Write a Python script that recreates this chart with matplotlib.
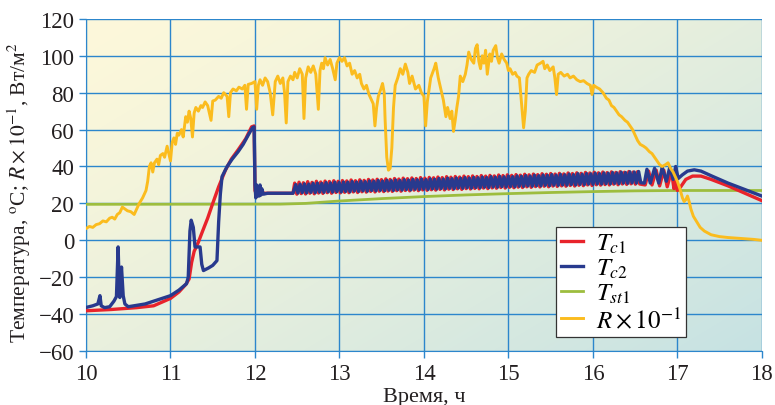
"""Temperature of collectors and solar radiation over a day (10-18 h)."""

import matplotlib

matplotlib.use("Agg")
import matplotlib.pyplot as plt  # noqa: E402
import numpy as np  # noqa: E402
from matplotlib.colors import to_rgb  # noqa: E402

# ---- data ----
# solar radiation R x 10^-1, W/m2
R_T = [10.00, 10.04, 10.08, 10.12, 10.16, 10.20, 10.24, 10.28, 10.31, 10.34,
       10.37, 10.40, 10.43, 10.46, 10.49, 10.53, 10.57, 10.60, 10.63, 10.67,
       10.71, 10.73, 10.75, 10.77, 10.79, 10.81, 10.84, 10.86, 10.88, 10.91,
       10.93, 10.96, 10.98, 11.00, 11.02, 11.04, 11.06, 11.08, 11.10, 11.13,
       11.15, 11.18, 11.20, 11.22, 11.24, 11.26, 11.28, 11.30, 11.33, 11.36,
       11.38, 11.41, 11.44, 11.48, 11.50, 11.53, 11.57, 11.60, 11.63, 11.67,
       11.69, 11.71, 11.74, 11.78, 11.81, 11.85, 11.88, 11.90, 11.92, 11.96,
       12.00, 12.02, 12.04, 12.06, 12.09, 12.12, 12.15, 12.18, 12.21, 12.24,
       12.27, 12.30, 12.33, 12.35, 12.37, 12.39, 12.42, 12.45, 12.47, 12.50,
       12.53, 12.56, 12.58, 12.60, 12.63, 12.66, 12.69, 12.72, 12.75, 12.77,
       12.79, 12.81, 12.83, 12.86, 12.89, 12.92, 12.95, 12.97, 13.00, 13.03,
       13.06, 13.09, 13.12, 13.15, 13.18, 13.21, 13.24, 13.26, 13.29, 13.32,
       13.35, 13.38, 13.40, 13.42, 13.44, 13.46, 13.49, 13.51, 13.53, 13.54,
       13.56, 13.58, 13.60, 13.62, 13.64, 13.66, 13.69, 13.72, 13.75, 13.78,
       13.81, 13.83, 13.86, 13.90, 13.94, 13.97, 14.00, 14.02, 14.04, 14.08,
       14.12, 14.14, 14.17, 14.20, 14.23, 14.26, 14.28, 14.31, 14.33, 14.35,
       14.37, 14.39, 14.41, 14.43, 14.46, 14.49, 14.51, 14.53, 14.56, 14.59,
       14.61, 14.63, 14.65, 14.67, 14.69, 14.71, 14.73, 14.75, 14.78, 14.80,
       14.82, 14.85, 14.87, 14.89, 14.92, 14.95, 14.98, 15.00, 15.02, 15.05,
       15.08, 15.10, 15.13, 15.16, 15.18, 15.20, 15.22, 15.24, 15.27, 15.31,
       15.34, 15.38, 15.41, 15.43, 15.46, 15.49, 15.53, 15.55, 15.57, 15.59,
       15.62, 15.66, 15.70, 15.73, 15.77, 15.81, 15.85, 15.89, 15.93, 15.97,
       15.99, 16.01, 16.04, 16.08, 16.12, 16.16, 16.19, 16.22, 16.25, 16.28,
       16.31, 16.34, 16.38, 16.41, 16.44, 16.47, 16.50, 16.53, 16.56, 16.60,
       16.63, 16.67, 16.70, 16.73, 16.76, 16.79, 16.82, 16.86, 16.89, 16.92,
       16.95, 16.98, 17.00, 17.03, 17.06, 17.08, 17.10, 17.12, 17.14, 17.16,
       17.19, 17.23, 17.27, 17.32, 17.40, 17.50, 17.60, 17.75, 17.90, 18.00]
R_V = [6.4, 7.5, 7.0, 8.5, 9.0, 10.5, 10.0, 12.0, 12.5, 11.5,
       14.0, 15.0, 18.0, 17.0, 16.0, 15.5, 14.0, 17.0, 20.0, 23.0,
       27.0, 32.0, 40.0, 42.0, 37.0, 42.0, 44.0, 41.0, 46.0, 47.0,
       45.0, 51.0, 47.0, 43.0, 53.0, 55.5, 52.0, 58.0, 57.0, 60.0,
       56.0, 67.0, 64.0, 70.0, 66.0, 56.0, 69.0, 72.0, 70.0, 73.0,
       72.0, 75.0, 73.0, 65.0, 75.5, 76.0, 78.0, 77.0, 80.0, 78.0,
       67.0, 80.0, 82.0, 81.0, 83.0, 82.0, 84.0, 71.0, 84.5, 85.0,
       86.0, 71.0, 84.0, 87.0, 84.0, 88.0, 86.0, 80.0, 68.0, 86.0,
       89.0, 85.0, 88.0, 80.0, 63.6, 86.0, 89.0, 87.0, 91.0, 88.0,
       93.0, 90.0, 66.0, 88.0, 94.0, 91.0, 94.5, 90.0, 71.0, 92.0,
       96.0, 93.0, 99.0, 95.0, 98.0, 93.0, 87.0, 96.0, 99.0, 97.0,
       99.0, 94.5, 96.0, 90.0, 92.0, 88.0, 90.0, 85.0, 82.0, 84.0,
       79.0, 76.0, 74.0, 62.0, 72.0, 78.0, 82.0, 85.0, 80.0, 66.0,
       45.0, 38.0, 39.0, 50.0, 72.0, 84.0, 88.0, 93.0, 90.0, 95.5,
       91.0, 85.0, 89.0, 82.0, 84.0, 80.0, 78.0, 62.0, 75.0, 88.0,
       93.0, 96.0, 88.0, 82.0, 76.0, 67.0, 72.0, 66.0, 70.0, 59.0,
       65.0, 72.0, 78.0, 89.0, 86.0, 90.0, 95.0, 102.0, 98.0, 96.0,
       104.0, 106.0, 97.0, 93.0, 100.0, 96.0, 103.0, 90.0, 101.0, 97.0,
       103.0, 105.5, 99.0, 96.0, 101.0, 98.0, 96.0, 92.0, 93.0, 90.0,
       91.0, 89.0, 88.0, 72.0, 61.0, 70.0, 88.0, 90.0, 92.0, 91.0,
       95.0, 96.0, 97.0, 93.0, 95.0, 92.0, 94.0, 88.0, 79.0, 90.0,
       91.0, 89.0, 90.0, 88.0, 89.0, 87.0, 86.0, 86.5, 85.0, 84.0,
       79.0, 84.0, 83.0, 82.0, 80.0, 77.0, 76.0, 73.0, 72.0, 70.0,
       68.0, 67.0, 65.0, 64.0, 62.0, 60.0, 57.0, 54.0, 52.0, 51.0,
       50.0, 48.0, 47.0, 45.0, 43.0, 41.0, 40.0, 41.0, 42.0, 39.0,
       37.0, 34.0, 32.0, 28.0, 23.0, 21.0, 22.0, 24.0, 21.0, 17.0,
       13.0, 10.0, 7.0, 5.0, 3.0, 2.0, 1.5, 1.0, 0.5, 0.0]

# collector 1 temperature: morning warm-up, dense cycling band, evening
TC1_HEAD_T = [10.00, 10.30, 10.60, 10.80, 11.00, 11.10, 11.18, 11.22, 11.25,
              11.28, 11.33, 11.38, 11.44, 11.50, 11.57, 11.65, 11.72, 11.80,
              11.89, 11.96, 11.99, 12.00, 12.02, 12.04, 12.06, 12.10, 12.45]
TC1_HEAD_V = [-38.2, -37.5, -36.5, -35.5, -31.5, -28.0, -24.0, -21.0, -12.0,
              -6.0, -1.0, 5.0, 12.0, 20.0, 29.0, 38.0, 44.0, 49.0,
              55.0, 61.5, 62.0, 27.0, 24.5, 26.5, 25.0, 25.5, 25.5]
TC1_TAIL_T = [16.62, 16.66, 16.70, 16.75, 16.79, 16.84, 16.88, 16.93, 16.96,
              16.98, 17.00, 17.04, 17.10, 17.18, 17.28, 17.40, 17.60, 17.80,
              18.00]
TC1_TAIL_V = [30.0, 37.5, 30.0, 38.0, 29.5, 38.0, 29.0, 37.5, 28.0,
              32.0, 27.0, 29.0, 33.0, 34.8, 34.8, 33.0, 29.5, 25.5,
              21.5]

# collector 2 temperature
TC2_HEAD_T = [10.00, 10.08, 10.14, 10.165, 10.18, 10.22, 10.28, 10.33, 10.36,
              10.38, 10.395, 10.40, 10.42, 10.44, 10.46, 10.50, 10.70, 11.00,
              11.10, 11.19, 11.21, 11.23, 11.245, 11.27, 11.29, 11.35, 11.37,
              11.39, 11.45, 11.50, 11.55, 11.57, 11.59, 11.61, 11.67, 11.73,
              11.80, 11.86, 11.92, 11.97, 11.99, 12.00, 12.01, 12.02, 12.03,
              12.04, 12.05, 12.06, 12.07, 12.08, 12.10, 12.15, 12.45]
TC2_HEAD_V = [-36.4, -35.5, -34.5, -30.0, -35.5, -36.5, -36.0, -33.0, -30.5,
              -3.6, -28.0, -31.0, -14.5, -30.0, -34.5, -36.0, -34.5, -30.0,
              -27.0, -23.5, -20.0, 5.0, 10.9, 7.0, -3.6, -3.6, -13.0,
              -16.4, -15.0, -13.6, -11.0, 10.0, 25.0, 34.5, 40.0, 44.0,
              48.0, 52.0, 57.0, 61.0, 61.5, 30.0, 23.0, 30.0, 24.0,
              29.0, 24.0, 30.0, 24.5, 28.0, 25.0, 25.5, 25.5]
TC2_TAIL_T = [16.61, 16.64, 16.68, 16.73, 16.78, 16.82, 16.87, 16.91, 16.95,
              16.98, 17.01, 17.06, 17.12, 17.20, 17.28, 17.40, 17.60, 17.80,
              18.00]
TC2_TAIL_V = [31.0, 38.5, 31.0, 39.0, 31.0, 39.5, 32.0, 39.5, 33.0,
              40.0, 33.5, 35.5, 37.5, 38.2, 37.5, 35.0, 31.0, 27.5,
              24.0]

# on/off cycling between 12.47 h and 16.6 h: peak and trough of each cycle
CYCLE_START = 12.47
CYCLE_END = 16.58
TC1_PEAKS = [31.0, 31.5, 31.2, 31.8, 31.4, 32.0, 31.6, 32.1, 31.9, 32.3,
             32.0, 32.4, 32.2, 32.7, 32.3, 32.8, 32.5, 33.0, 32.7, 33.1,
             32.9, 33.3, 33.0, 33.5, 33.2, 33.7, 33.4, 33.8, 33.5, 34.0,
             33.7, 34.1, 33.9, 34.3, 34.0, 34.5, 34.2, 34.6, 34.3, 34.8,
             34.5, 34.9, 34.6, 35.1, 34.8, 35.2, 34.9, 35.4, 35.1, 35.5,
             35.2, 35.6, 35.3, 35.8, 35.5, 35.9, 35.6, 36.1, 35.8, 36.2,
             35.9, 36.3, 36.0, 36.5, 36.2, 36.6, 36.3, 36.8, 36.5, 36.9,
             36.6, 37.0, 36.7, 37.1, 36.8, 37.2, 36.9, 37.3, 37.0, 37.2]
TC1_TROUGHS = [25.0, 25.3, 25.1, 25.5, 25.2, 25.6, 25.4, 25.8, 25.5, 25.9,
               25.7, 26.0, 25.8, 26.2, 25.9, 26.3, 26.1, 26.5, 26.2, 26.6,
               26.4, 26.7, 26.5, 26.9, 26.6, 27.0, 26.8, 27.2, 26.9, 27.3,
               27.1, 27.4, 27.2, 27.6, 27.3, 27.7, 27.5, 27.9, 27.6, 28.0,
               27.8, 28.1, 27.9, 28.3, 28.0, 28.4, 28.2, 28.6, 28.3, 28.7,
               28.5, 28.8, 28.6, 29.0, 28.7, 29.1, 28.9, 29.3, 29.0, 29.4,
               29.2, 29.5, 29.3, 29.7, 29.4, 29.8, 29.6, 30.0, 29.7, 30.1,
               29.9, 30.2, 30.0, 30.4, 30.1, 30.5, 30.3, 30.6, 30.4, 30.5]
TC2_PEAKS = [30.2, 30.4, 30.6, 30.5, 30.9, 31.0, 30.8, 31.3, 31.1, 31.5,
             31.3, 31.6, 31.5, 31.9, 31.6, 32.0, 31.8, 32.2, 32.0, 32.4,
             32.1, 32.5, 32.3, 32.7, 32.4, 32.9, 32.6, 33.0, 32.8, 33.2,
             32.9, 33.3, 33.1, 33.5, 33.2, 33.7, 33.4, 33.8, 33.6, 34.0,
             33.7, 34.1, 33.9, 34.3, 34.0, 34.5, 34.2, 34.6, 34.4, 34.8,
             34.5, 34.9, 34.7, 35.1, 34.8, 35.3, 35.0, 35.4, 35.2, 35.6,
             35.3, 35.7, 35.5, 35.9, 35.6, 36.1, 35.8, 36.2, 36.0, 36.4,
             36.1, 36.5, 36.3, 36.7, 36.5, 36.9, 36.7, 37.1, 37.0, 37.3]
TC2_TROUGHS = [25.6, 25.8, 25.7, 26.0, 25.8, 26.1, 26.0, 26.3, 26.1, 26.4,
               26.2, 26.5, 26.3, 26.7, 26.5, 26.8, 26.6, 27.0, 26.8, 27.1,
               26.9, 27.2, 27.0, 27.4, 27.2, 27.5, 27.3, 27.7, 27.5, 27.8,
               27.6, 27.9, 27.8, 28.1, 27.9, 28.2, 28.0, 28.4, 28.2, 28.5,
               28.3, 28.6, 28.5, 28.8, 28.6, 28.9, 28.8, 29.1, 28.9, 29.2,
               29.0, 29.3, 29.2, 29.5, 29.3, 29.6, 29.5, 29.8, 29.6, 29.9,
               29.8, 30.0, 29.9, 30.2, 30.0, 30.3, 30.2, 30.5, 30.3, 30.6,
               30.5, 30.7, 30.6, 30.9, 30.7, 31.0, 30.9, 31.1, 31.0, 31.2]

# storage tank temperature
TST1_T = [10.0, 12.3, 12.6, 13.0, 13.5, 14.0, 14.5, 15.0, 15.5, 16.0, 16.5, 17.0, 18.0]
TST1_V = [19.5, 19.6, 20.0, 21.3, 22.6, 23.7, 24.6, 25.3, 25.9, 26.4, 26.8, 27.0, 27.0]

X_TICKS = [10, 11, 12, 13, 14, 15, 16, 17, 18]
Y_TICKS = [-60, -40, -20, 0, 20, 40, 60, 80, 100, 120]

C_TC1 = "#e8232b"
C_TC2 = "#283a8e"
C_TST = "#9dbd3e"
C_R = "#fbbc1e"
C_GRID = "#2c86cc"


def cycling(head_t, head_v, peaks, troughs, tail_t, tail_v, shift):
    """Join head, zigzag of peak/trough pairs, and tail into one series."""
    n = len(peaks)
    period = (CYCLE_END - CYCLE_START) / n
    t_peak = CYCLE_START + shift * period + np.arange(n) * period
    t_trough = t_peak + period / 2
    mid_t = np.column_stack([t_peak, t_trough]).ravel()
    mid_v = np.column_stack([peaks, troughs]).ravel()
    t = np.concatenate([head_t, mid_t, tail_t])
    v = np.concatenate([head_v, mid_v, tail_v])
    return t, v


def main() -> None:
    plt.rcParams["font.family"] = ["Liberation Serif", "DejaVu Serif"]
    plt.rcParams["mathtext.fontset"] = "stix"

    fig = plt.figure(figsize=(7.75, 4.06), dpi=100)
    ax = fig.add_axes([0.111, 0.133, 0.872, 0.818])

    # diagonal pale yellow (top-left) -> pale teal (bottom-right) background
    tl = np.array(to_rgb("#fdf8da"))
    br = np.array(to_rgb("#c6e2e3"))
    gx, gy = np.meshgrid(np.linspace(0, 1, 200), np.linspace(0, 1, 120))
    s = ((0.55 * gx + 0.45 * gy) ** 1.3)[..., None]
    img = tl * (1 - s) + br * s
    ax.imshow(img, extent=[10, 18, -60, 120], origin="upper", aspect="auto",
              zorder=0, interpolation="bilinear")
    ax.set_ylim(-60, 120)
    ax.set_xlim(10, 18)

    t1, v1 = cycling(TC1_HEAD_T, TC1_HEAD_V, TC1_PEAKS, TC1_TROUGHS,
                     TC1_TAIL_T, TC1_TAIL_V, 0.0)
    t2, v2 = cycling(TC2_HEAD_T, TC2_HEAD_V, TC2_PEAKS, TC2_TROUGHS,
                     TC2_TAIL_T, TC2_TAIL_V, 0.25)

    h_st, = ax.plot(TST1_T, TST1_V, color=C_TST, lw=2.0, zorder=3)
    h_c1, = ax.plot(t1, v1, color=C_TC1, lw=2.4, zorder=4)
    h_c2, = ax.plot(t2, v2, color=C_TC2, lw=2.4, zorder=5)
    h_r, = ax.plot(R_T, R_V, color=C_R, lw=2.1, zorder=6)

    ax.set_axisbelow(True)
    ax.grid(True, color=C_GRID, lw=1.0)
    ax.set_xticks(X_TICKS)
    ax.set_yticks(Y_TICKS)
    ax.tick_params(colors=C_GRID, labelcolor="#231f20", labelsize=16.5,
                   length=5, width=1.0)
    for side in ("top", "right"):
        ax.spines[side].set_visible(False)
    for side in ("left", "bottom"):
        ax.spines[side].set_color(C_GRID)

    ax.set_xlabel("Время, ч", fontsize=16, color="#231f20", labelpad=2)
    ax.set_ylabel("Температура, $^{\\rm o}$C; $R\\times10^{-1}$, Вт/м$^2$",
                  fontsize=15.5, color="#231f20")
    ax.yaxis.set_label_coords(-0.078, 0.48)

    leg = ax.legend([h_c1, h_c2, h_st, h_r],
                    ["$T_{c1}$", "$T_{c2}$", "$T_{st1}$", "$R\\times10^{-1}$"],
                    loc="lower left", bbox_to_anchor=(0.695, 0.042),
                    borderaxespad=0, fontsize=18, fancybox=False,
                    framealpha=1, edgecolor="#333333", handlelength=0.9,
                    handletextpad=0.5, labelspacing=0.06, borderpad=0.2)
    leg.get_frame().set_linewidth(0.9)
    leg.set_zorder(10)

    fig.savefig("out.png", dpi=100)
    plt.close(fig)


if __name__ == "__main__":
    main()
